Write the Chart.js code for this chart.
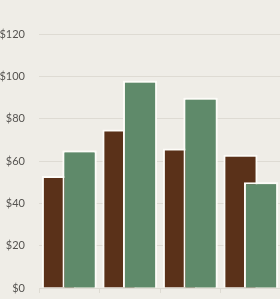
<!DOCTYPE html>
<html>
<head>
<meta charset="utf-8">
<script src="https://cdn.jsdelivr.net/npm/chart.js@4/dist/chart.umd.min.js"></script>
<style>
    html, body {
        margin: 0;
        padding: 0;
        width: 280px;
        height: 299px;
        overflow: hidden;
        background: #efede7;
    }
    #wrap {
        position: absolute;
        left: 0;
        top: -40px;
        width: 281px;
        height: 380px;
    }
</style>
</head>
<body>
<div id="wrap"><canvas id="barChart"></canvas></div>
<script>
// Chart data
const categories = ['Q1', 'Q2', 'Q3', 'Q4'];
const seriesNames = ['Costs', 'Revenue'];
const costValues = [53, 75, 66, 63];
const revenueValues = [65, 98, 90, 50];
const yTicks = [0, 20, 40, 60, 80, 100, 120, 140];

const BROWN = '#5a3119';
const GREEN = '#5f8a6a';
const TEXT = '#555350';
const GRID = '#dedbd3';

// redraw the second series so it sits over the first one
const greenOnTop = {
    id: 'greenOnTop',
    afterDatasetsDraw(chart) {
        const meta = chart.getDatasetMeta(1);
        if (meta && meta.visible) meta.controller.draw();
    }
};

const init = () => {
    const ctx = document.querySelector('#barChart');

    new Chart(ctx, {
        type: 'bar',
        data: {
            labels: categories,
            datasets: [
                {
                    label: seriesNames[0],
                    data: costValues,
                    backgroundColor: BROWN,
                    borderColor: '#fdfcf8',
                    borderWidth: 2
                },
                {
                    label: seriesNames[1],
                    data: revenueValues,
                    backgroundColor: GREEN,
                    borderColor: '#fdfcf8',
                    borderWidth: 2
                }
            ]
        },
        options: {
            responsive: true,
            maintainAspectRatio: false,
            animation: false,
            categoryPercentage: 0.68,
            barPercentage: 1.66,
            layout: {
                padding: { top: 32, right: 0, left: 0, bottom: 0 }
            },
            plugins: {
                legend: { display: false },
                tooltip: { enabled: false }
            },
            scales: {
                x: {
                    grid: {
                        offset: true,
                        drawOnChartArea: false,
                        drawTicks: true,
                        tickLength: 5,
                        color: GRID
                    },
                    border: { display: false },
                    ticks: {
                        color: TEXT,
                        padding: 12,
                        font: { family: 'Lato', size: 11 }
                    },
                    afterFit: (scale) => { scale.height = 52; }
                },
                y: {
                    min: 0,
                    max: 140,
                    afterBuildTicks: (scale) => {
                        scale.ticks = yTicks.map(v => ({ value: v }));
                    },
                    grid: {
                        drawTicks: false,
                        color: GRID
                    },
                    border: { display: false },
                    ticks: {
                        color: TEXT,
                        padding: 14,
                        font: { family: 'Lato', size: 11 },
                        callback: (v) => '$' + v
                    },
                    afterFit: (scale) => { scale.width = 39; }
                }
            }
        },
        plugins: [greenOnTop]
    });
};

if (document.readyState === 'loading') {
    document.addEventListener('DOMContentLoaded', init);
} else {
    init();
}
</script>
</body>
</html>
